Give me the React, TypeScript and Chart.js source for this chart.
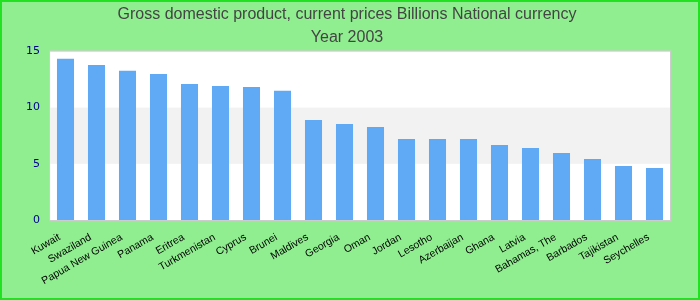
import React, { useEffect, useRef } from "react";
import { Chart, registerables } from "chart.js";

Chart.register(...registerables);

const categories = [
  "Kuwait", "Swaziland", "Papua New Guinea", "Panama", "Eritrea", "Turkmenistan",
  "Cyprus", "Brunei", "Maldives", "Georgia", "Oman", "Jordan", "Lesotho",
  "Azerbaijan", "Ghana", "Latvia", "Bahamas, The", "Barbados", "Tajikistan", "Seychelles",
];
const values = [
  14.34, 13.8, 13.27, 13.0, 12.11, 11.93, 11.84, 11.49, 8.9, 8.55, 8.28, 7.21, 7.21,
  7.21, 6.68, 6.41, 5.97, 5.43, 4.81, 4.63,
];
const titleLines = ["Gross domestic product, current prices Billions National currency", "Year 2003"];
const yTicks = [0, 5, 10, 15];

const bandsPlugin = {
  id: "bands",
  beforeDraw(chart: any) {
    const { ctx, chartArea, scales } = chart;
    const y = scales.y;
    ctx.save();
    ctx.fillStyle = "#ffffff";
    ctx.fillRect(chartArea.left, chartArea.top, chartArea.width, chartArea.height);
    for (let i = 0; i < yTicks.length - 1; i++) {
      if (i % 2 === 1) {
        const t = y.getPixelForValue(yTicks[i + 1]);
        const b = y.getPixelForValue(yTicks[i]);
        ctx.fillStyle = "#f2f2f2";
        ctx.fillRect(chartArea.left, t, chartArea.width, b - t);
      }
    }
    ctx.strokeStyle = "#cccccc";
    ctx.lineWidth = 1;
    ctx.strokeRect(chartArea.left - 0.5, chartArea.top - 0.5, chartArea.width + 1, chartArea.height + 1);
    ctx.restore();
  },
};

export default function App() {
  const ref = useRef<HTMLCanvasElement>(null);
  useEffect(() => {
    document.body.style.margin = "0";
    const chart = new Chart(ref.current as HTMLCanvasElement, {
      type: "bar",
      data: {
        labels: categories,
        datasets: [
          {
            data: values,
            backgroundColor: "#60a9f4",
            barPercentage: 0.55,
            categoryPercentage: 1,
          },
        ],
      },
      options: {
        animation: false,
        responsive: false,
        layout: { padding: { left: 22, right: 28, top: 0, bottom: 0 } },
        plugins: {
          legend: { display: false },
          tooltip: { enabled: false },
          title: {
            display: true,
            text: titleLines,
            color: "#444444",
            font: { family: "Liberation Sans, Arial, sans-serif", size: 16, weight: "normal" as any, lineHeight: 1.45 },
            padding: { top: 1, bottom: 2 },
          },
        },
        scales: {
          x: {
            grid: { display: false },
            border: { display: false },
            afterFit(scale: any) {
              scale.height = 78;
            },
            ticks: {
              minRotation: 30,
              maxRotation: 30,
              autoSkip: false,
              labelOffset: -6,
              color: "#000000",
              font: { family: "Liberation Sans, Arial, sans-serif", size: 10.5 },
              padding: 3,
            },
          },
          y: {
            min: 0,
            max: 15,
            grid: { display: false, drawTicks: false },
            border: { display: false },
            afterFit(scale: any) {
              scale.width = 26;
            },
            ticks: {
              stepSize: 5,
              color: "#00008b",
              font: { family: "DejaVu Sans, sans-serif", size: 11 },
              padding: 10,
            },
          },
        },
      },
      plugins: [bandsPlugin],
    });
    return () => chart.destroy();
  }, []);
  return (
    <div
      style={{
        position: "absolute",
        left: 0,
        top: 0,
        width: 700,
        height: 300,
        boxSizing: "border-box",
        border: "2px solid #22e022",
        background: "#90ee90",
      }}
    >
      <canvas ref={ref} width={696} height={296} style={{ display: "block" }} />
    </div>
  );
}
